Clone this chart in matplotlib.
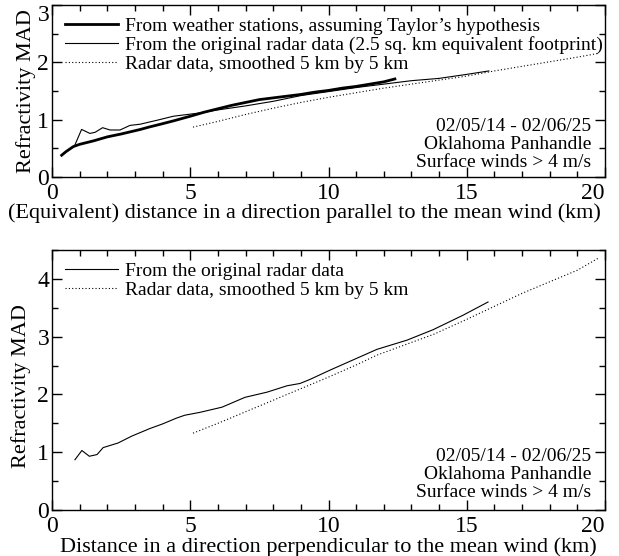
import matplotlib
matplotlib.use("Agg")
import matplotlib.pyplot as plt
from matplotlib.ticker import MultipleLocator

plt.rcParams['font.family'] = ['Liberation Serif', 'DejaVu Serif']

# Parallel to the mean wind
stations_x = [0.35, 0.5, 0.77, 1.0, 1.5, 2.0, 2.5, 3.2, 3.5, 4.0, 4.4, 5.0, 5.5, 6.0, 6.5,
              7.0, 7.5, 8.0, 8.5, 9.0, 9.5, 10.0, 10.5, 11.0, 11.5, 12.0, 12.4]
stations_y = [0.38, 0.44, 0.53, 0.57, 0.63, 0.70, 0.75, 0.83, 0.87, 0.93, 0.98, 1.06, 1.13, 1.19, 1.25,
              1.30, 1.35, 1.38, 1.41, 1.44, 1.48, 1.51, 1.55, 1.58, 1.62, 1.66, 1.71]

radar_par_x = [0.83, 1.07, 1.37, 1.56, 1.83, 2.1, 2.46, 2.82, 3.18, 3.8, 4.39, 5.23, 6.0, 7.0,
               8.0, 9.0, 10.0, 11.0, 12.0, 13.0, 14.0, 15.0, 15.8]
radar_par_y = [0.56, 0.83, 0.76, 0.78, 0.86, 0.82, 0.82, 0.90, 0.92, 0.99, 1.06, 1.11, 1.17, 1.24,
               1.32, 1.42, 1.49, 1.56, 1.62, 1.68, 1.72, 1.79, 1.85]

smooth_par_x = [5.1, 6, 7, 8, 9, 10, 11, 12, 13, 14, 15, 16, 17, 18, 19, 19.8]
smooth_par_y = [0.87, 0.97, 1.09, 1.20, 1.30, 1.39, 1.47, 1.55, 1.62, 1.69, 1.76, 1.85, 1.93, 2.01, 2.09, 2.16]

# Perpendicular to the mean wind
radar_perp_x = [0.83, 1.08, 1.35, 1.63, 1.85, 2.39, 2.89, 3.54, 4.0, 4.5, 4.8, 5.35, 6.15, 6.98,
                7.78, 8.5, 8.97, 9.33, 10.05, 11.75, 12.84, 13.78, 14.86, 15.77]
radar_perp_y = [0.87, 1.03, 0.93, 0.96, 1.08, 1.16, 1.28, 1.41, 1.49, 1.59, 1.64, 1.69, 1.78, 1.95,
                2.04, 2.15, 2.19, 2.26, 2.42, 2.78, 2.94, 3.12, 3.37, 3.60]

smooth_perp_x = [5.1, 6, 7, 8, 9, 10, 11, 11.75, 13, 13.8, 15, 15.8, 17, 17.9, 19, 19.8]
smooth_perp_y = [1.33, 1.50, 1.70, 1.90, 2.10, 2.30, 2.51, 2.68, 2.90, 3.04, 3.30, 3.48, 3.75, 3.93, 4.15, 4.37]

info = "02/05/14 - 02/06/25\nOklahoma Panhandle\nSurface winds > 4 m/s"

W, H = 619, 556
fig = plt.figure(figsize=(W / 100, H / 100), dpi=100)


def px_axes(left, top, right, bottom):
    return fig.add_axes([left / W, 1 - bottom / H, (right - left) / W, (bottom - top) / H])


def add_legend(ax):
    ax.legend(loc='upper left', frameon=False, fontsize=14, handlelength=2.75,
              handletextpad=0.35, labelspacing=0.05, borderaxespad=0.3, borderpad=0.35)


def style(ax, ymax):
    ax.set_xlim(0, 20)
    ax.set_ylim(0, ymax)
    ax.xaxis.set_major_locator(MultipleLocator(5))
    ax.xaxis.set_minor_locator(MultipleLocator(1))
    ax.yaxis.set_major_locator(MultipleLocator(1))
    ax.yaxis.set_minor_locator(MultipleLocator(0.5))
    ax.tick_params(which='both', direction='in', top=True, right=True, width=1.0, labelsize=17)
    ax.tick_params(which='major', length=7)
    ax.tick_params(which='minor', length=4)
    ax.tick_params(axis='x', pad=4.5)
    ax.tick_params(axis='y', pad=2)
    for sp in ax.spines.values():
        sp.set_linewidth(1.0)
    ax.set_ylabel("Refractivity MAD", fontsize=16, labelpad=1)
    fig.canvas.draw()
    # last x label sits flush with the right edge of the frame
    for tick in ax.xaxis.get_major_ticks():
        if tick.get_loc() == 20:
            tick.label1.set_ha('right')
    ax.text(0.975, 0.035, info, transform=ax.transAxes, ha='right', va='bottom',
            fontsize=14, linespacing=1.08)


ax1 = px_axes(52, 5, 605, 177)
ax1.plot(stations_x, stations_y, color='black', lw=2.0,
         label="From weather stations, assuming Taylor\u2019s hypothesis")
ax1.plot(radar_par_x, radar_par_y, color='black', lw=0.8,
         label="From the original radar data (2.5 sq. km equivalent footprint)")
ax1.plot(smooth_par_x, smooth_par_y, color='black', lw=0.8, ls=(0, (1, 2)),
         label="Radar data, smoothed 5 km by 5 km")
add_legend(ax1)
ax1.set_xlabel("(Equivalent) distance in a direction parallel to the mean wind (km)",
               fontsize=16, labelpad=0)
style(ax1, 3)
# long label is pulled left so it stays inside the figure
ax1.xaxis.set_label_coords(0.457, -0.155)
# hang the top "3" below its tick so it is not clipped by the figure edge
for tick in ax1.yaxis.get_major_ticks():
    if tick.get_loc() == 3:
        tick.label1.set_va('top')

ax2 = px_axes(52, 250, 605, 510)
ax2.plot(radar_perp_x, radar_perp_y, color='black', lw=0.8,
         label="From the original radar data")
ax2.plot(smooth_perp_x, smooth_perp_y, color='black', lw=0.8, ls=(0, (1, 2)),
         label="Radar data, smoothed 5 km by 5 km")
add_legend(ax2)
ax2.set_xlabel("Distance in a direction perpendicular to the mean wind (km)",
               fontsize=16, labelpad=0)
style(ax2, 4.5)
ax2.yaxis.set_label_coords(-0.038, 0.475)

fig.savefig("out.png", dpi=100)
